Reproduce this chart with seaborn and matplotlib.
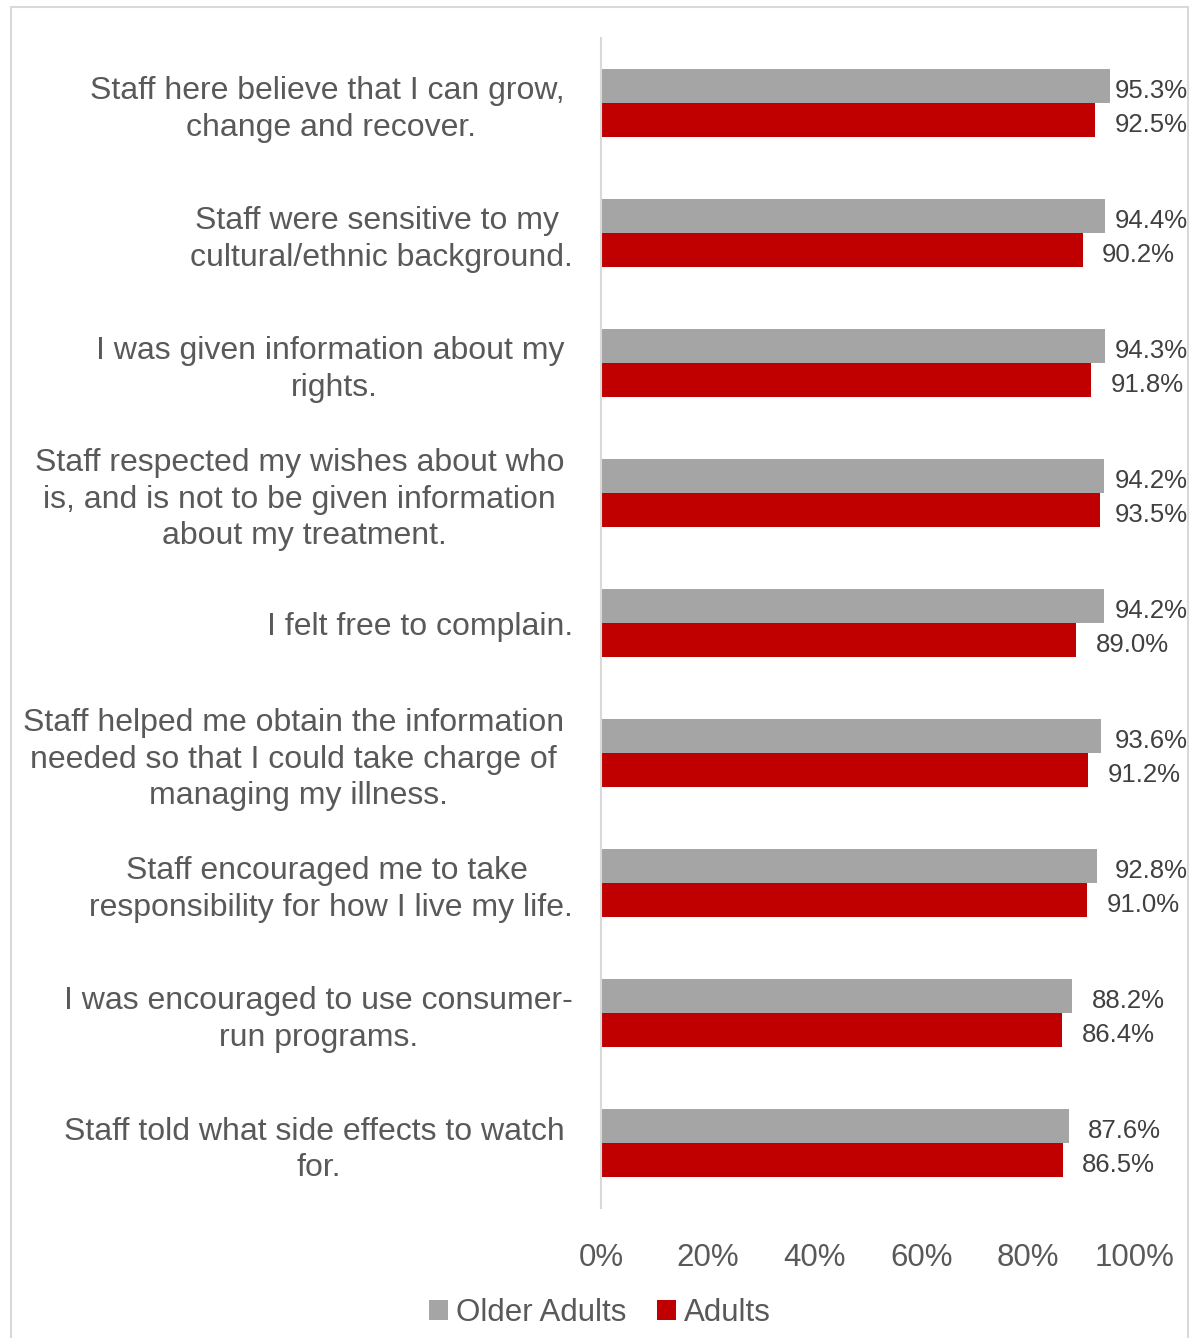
import matplotlib
matplotlib.use("Agg")
import matplotlib.pyplot as plt
import seaborn as sns
import pandas as pd
from matplotlib.patches import Rectangle, Patch

categories = [
    "Staff here believe that I can grow, \nchange and recover.",
    "Staff were sensitive to my \ncultural/ethnic background.",
    "I was given information about my \nrights.",
    "Staff respected my wishes about who \nis, and is not to be given information \nabout my treatment.",
    "I felt free to complain.",
    "Staff helped me obtain the information \nneeded so that I could take charge of \nmanaging my illness.",
    "Staff encouraged me to take \nresponsibility for how I live my life.",
    "I was encouraged to use consumer-\nrun programs.",
    "Staff told what side effects to watch \nfor.",
]
older_adults = [95.3, 94.4, 94.3, 94.2, 94.2, 93.6, 92.8, 88.2, 87.6]
adults = [92.5, 90.2, 91.8, 93.5, 89.0, 91.2, 91.0, 86.4, 86.5]
series = ["Older Adults", "Adults"]
colors = ["#a5a5a5", "#c00000"]
xticks = [0, 20, 40, 60, 80, 100]

sns.set_theme(style="white")
plt.rcParams["font.family"] = ["Liberation Sans", "DejaVu Sans"]

df = pd.DataFrame({
    "category": categories * 2,
    "series": [series[0]] * len(categories) + [series[1]] * len(categories),
    "value": older_adults + adults,
})

W, H, DPI = 1193, 1338, 100
fig = plt.figure(figsize=(W / DPI, H / DPI), dpi=DPI)
ax = fig.add_axes([601 / W, 1 - 1208 / H, 534 / W, 1170 / H])

sns.barplot(data=df, x="value", y="category", hue="series", order=categories,
            hue_order=series, palette=colors, orient="h", width=68 / 130,
            gap=0, saturation=1, ax=ax, legend=False, errorbar=None,
            linewidth=0, edgecolor="none")

ax.set_xlim(0, 100)
ax.set_ylim(len(categories) - 0.5, -0.5)
ax.set_xticks(xticks)
ax.set_xticklabels([f"{t}%" for t in xticks])
ax.set_xlabel("")
ax.set_ylabel("")
for s in ["top", "right", "bottom"]:
    ax.spines[s].set_visible(False)
ax.spines["left"].set_color("#d9d9d9")
ax.spines["left"].set_linewidth(1.5)
ax.tick_params(axis="x", length=0, pad=25, labelsize=22.5, labelcolor="#595959")
ax.tick_params(axis="y", length=0, pad=20, labelsize=23, labelcolor="#595959")
for lbl in ax.get_yticklabels():
    lbl.set_multialignment("center")
    lbl.set_linespacing(1.27)

# value labels
texts = []
for cont, vals in zip(ax.containers, [older_adults, adults]):
    for bar, v in zip(cont, vals):
        y = bar.get_y() + bar.get_height() / 2
        t = ax.annotate(f"{v:.1f}%", xy=(v, y), xytext=(14, -1.5), textcoords="offset points",
                        ha="left", va="center_baseline", fontsize=18.5, color="#404040",
                        annotation_clip=False)
        texts.append(t)

fig.canvas.draw()
renderer = fig.canvas.get_renderer()
limit_px = 1188
for t in texts:
    bb = t.get_window_extent(renderer)
    if bb.x1 > limit_px:
        over = bb.x1 - limit_px
        t.xyann = (14 - over * 72 / DPI, -1.5)

# legend
handles = [Patch(facecolor=c, edgecolor="none") for c in colors]
fig.legend(handles, series, loc="center", bbox_to_anchor=(600 / W, 1 - 1313 / H),
           ncol=2, frameon=False, fontsize=22.5, handlelength=0.6, handleheight=0.6,
           handletextpad=0.25, columnspacing=1.0, labelcolor="#595959")

# outer frame
fig.patches.append(Rectangle((11 / W, -0.01), (1188 - 11) / W, 1 - 7 / H + 0.01,
                             transform=fig.transFigure, fill=False,
                             edgecolor="#d9d9d9", linewidth=1.5))

fig.savefig("out.png", dpi=DPI)
